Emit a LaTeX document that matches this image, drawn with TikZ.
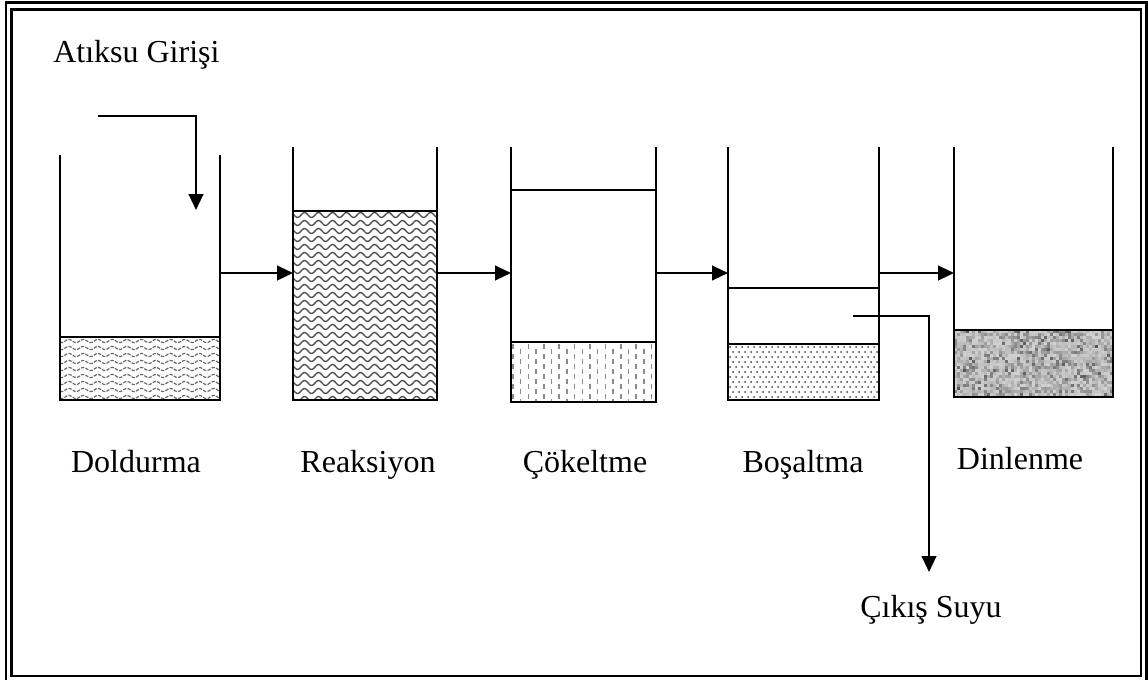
\documentclass[tikz,border=0pt]{standalone}
\usepackage{fontspec}
\setmainfont{Liberation Serif}
\usetikzlibrary{arrows.meta}

\begin{document}
\begin{tikzpicture}[x=0.75pt,y=-0.75pt,
    wall/.style={line width=1.6pt},
    frame/.style={line width=1.7pt},
    flow/.style={line width=1.6pt,-{Triangle[length=12pt,width=11pt]}},
    stagetext/.style={font=\fontsize{24}{28}\selectfont,inner sep=0pt},
    wave/.style={black!60,line width=0.9pt,dash pattern=on 2.5pt off 1pt},
    bigwave/.style={black!70,line width=1pt},
    grain/.style={black!45,line width=1.1pt}
  ]
  \useasboundingbox (0,0) rectangle (1148,679);
  % double frame
  \draw[frame] (6,2.5) rectangle (1146.5,684);
  \draw[frame] (11.5,9.5) rectangle (1141,676);

  % Doldurma (360/14.5 = 24.83)
  \begin{scope}
    \clip (60,337) rectangle (220,400);
    \foreach \row in {341,348,...,400}
      \draw[wave] plot[domain=60:220,samples=120,smooth] (\x,{\row+1.6*sin(24.83*\x)});
  \end{scope}
  \draw[wall] (60,337) rectangle (220,400);
  \draw[wall] (60,155) -- (60,400) -- (220,400) -- (220,155);

  % Reaksiyon (360/14 = 25.71)
  \begin{scope}
    \clip (293,211) rectangle (437,400);
    \foreach \row in {215,223,...,404}
      \draw[bigwave] plot[domain=293:437,samples=120,smooth] (\x,{\row+2.5*sin(25.71*\x)});
  \end{scope}
  \draw[wall] (293,211) rectangle (437,400);
  \draw[wall] (293,147) -- (293,400) -- (437,400) -- (437,147);

  % Cokeltme
  \begin{scope}
    \clip (511,342) rectangle (656,402);
    \foreach \i in {0,...,19}
      \foreach \row in {344,354,...,404}
        \draw[grain] ({513+7.7*\i},{\row+5*mod(\i,2)}) -- ++(0,4.5);
  \end{scope}
  \draw[wall] (511,342) rectangle (656,402);
  \draw[wall] (511,147) -- (511,402) -- (656,402) -- (656,147);
  \draw[wall] (511,190) -- (656,190);

  % Bosaltma
  \begin{scope}
    \clip (728,344) rectangle (879,400);
    \foreach \i in {0,...,26}
      \foreach \row in {347,352,...,402}
        \fill[black!75] ({730+6*\i+3*mod((\row-347)/5,2)},\row) circle (0.75pt);
  \end{scope}
  \draw[wall] (728,344) rectangle (879,400);
  \draw[wall] (728,147) -- (728,400) -- (879,400) -- (879,147);
  \draw[wall] (728,288) -- (879,288);

  % Dinlenme
  \pgfmathsetseed{42}
  \begin{scope}
    \clip (954,330) rectangle (1113,397);
    \foreach \i in {0,...,53}
      \foreach \j in {0,...,22} {
        \pgfmathsetmacro\shade{18+50*rnd*rnd}
        \fill[black!\shade] ({954+3*\i},{330+3*\j}) rectangle ++(3,3);
      }
  \end{scope}
  \draw[wall] (954,330) rectangle (1113,397);
  \draw[wall] (954,147) -- (954,397) -- (1113,397) -- (1113,147);

  % inlet and outlet
  \coordinate (inStart) at (98,116);
  \coordinate (inEnd) at (196,210);
  \draw[flow] (inStart) -| (inEnd);
  \coordinate (outStart) at (853,316);
  \coordinate (outEnd) at (929,572);
  \draw[flow] (outStart) -| (outEnd);

  % transfers between the stages
  \coordinate (t1) at (220,273);
  \coordinate (t2a) at (293,273);
  \coordinate (t2b) at (437,273);
  \coordinate (t3a) at (511,273);
  \coordinate (t3b) at (656,273);
  \coordinate (t4a) at (728,273);
  \coordinate (t4b) at (879,273);
  \coordinate (t5) at (954,273);
  \draw[flow] (t1) -- (t2a);
  \draw[flow] (t2b) -- (t3a);
  \draw[flow] (t3b) -- (t4a);
  \draw[flow] (t4b) -- (t5);

  % texts
  \node[stagetext,anchor=base west] (inText) at (53,62) {Atıksu Girişi};
  \node[stagetext,anchor=base west] (outText) at (860,617) {Çıkış Suyu};
  \node[stagetext,anchor=base] (doldurma) at (136,472) {Doldurma};
  \node[stagetext,anchor=base] (reaksiyon) at (368,472) {Reaksiyon};
  \node[stagetext,anchor=base] (cokeltme) at (585,472) {Çökeltme};
  \node[stagetext,anchor=base] (bosaltma) at (803,472) {Boşaltma};
  \node[stagetext,anchor=base] (dinlenme) at (1020,469) {Dinlenme};
\end{tikzpicture}
\end{document}
